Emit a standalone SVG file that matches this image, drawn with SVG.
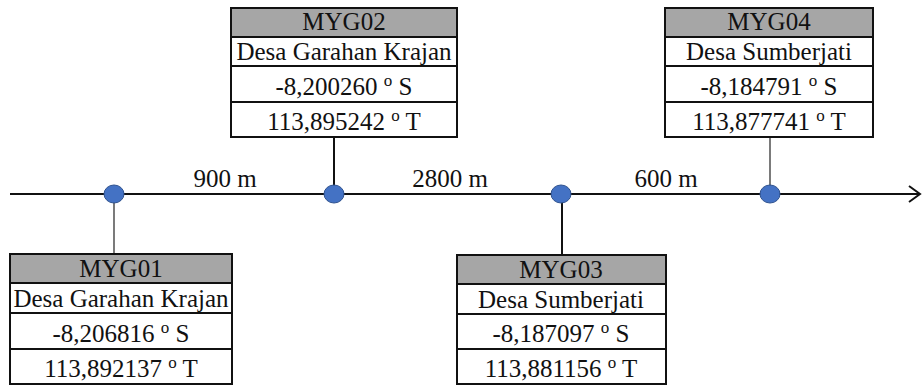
<svg xmlns="http://www.w3.org/2000/svg" width="923" height="385" viewBox="0 0 923 385">
<defs>
<style>
text{font-family:"Liberation Serif","Times New Roman",serif;font-size:25px;fill:#111;text-anchor:middle}
.hd{fill:#a6a6a6;stroke:none}
.box{fill:none;stroke:#111;stroke-width:2}
.row{stroke:#111;stroke-width:2}
.pt{fill:#4472c4;stroke:#2f528f;stroke-width:1}
.thick{stroke:#111;stroke-width:2;fill:none}
.thin{stroke:#333;stroke-width:1.3;fill:none}
.sup{font-size:17px}
</style>
</defs>
<rect width="923" height="385" fill="#fff"/>
<g id="connectors">
<line class="thick" x1="10" y1="194" x2="919" y2="194" stroke-width="2.5"/>
<polyline class="thick" points="909,186 920,194 909,202" stroke-width="2.5"/>
<line class="thin" x1="114" y1="194" x2="114" y2="254"/>
<line class="thick" x1="334" y1="137" x2="334" y2="194"/>
<line class="thick" x1="562" y1="194" x2="562" y2="255"/>
<line class="thin" x1="770" y1="137" x2="770" y2="194"/>
<text x="225" y="187">900 m</text>
<text x="450" y="187">2800 m</text>
<text x="666" y="187">600 m</text>
</g>
<g id="points">
<ellipse class="pt" cx="114" cy="194" rx="10" ry="9"/>
<ellipse class="pt" cx="334" cy="194" rx="10" ry="9"/>
<ellipse class="pt" cx="561" cy="194" rx="10" ry="9"/>
<ellipse class="pt" cx="770" cy="194" rx="10" ry="9"/>
</g>
<g id="MYG02">
<rect class="hd" x="231" y="8" width="226" height="29"/>
<rect class="box" x="231" y="8" width="226" height="129"/>
<line class="row" x1="231" y1="37" x2="457" y2="37"/>
<line class="row" x1="231" y1="66" x2="457" y2="66"/>
<line class="row" x1="231" y1="102" x2="457" y2="102"/>
<text x="344" y="30">MYG02</text>
<text x="344" y="60">Desa Garahan Krajan</text>
<text x="344" y="95">-8,200260 <tspan class="sup" dy="-9">o</tspan><tspan dy="9"> S</tspan></text>
<text x="344" y="130">113,895242 <tspan class="sup" dy="-9">o</tspan><tspan dy="9"> T</tspan></text>
</g>
<g id="MYG04">
<rect class="hd" x="665" y="8" width="208" height="29"/>
<rect class="box" x="665" y="8" width="208" height="129"/>
<line class="row" x1="665" y1="37" x2="873" y2="37"/>
<line class="row" x1="665" y1="66" x2="873" y2="66"/>
<line class="row" x1="665" y1="102" x2="873" y2="102"/>
<text x="769" y="30">MYG04</text>
<text x="769" y="60">Desa Sumberjati</text>
<text x="769" y="95">-8,184791 <tspan class="sup" dy="-9">o</tspan><tspan dy="9"> S</tspan></text>
<text x="769" y="130">113,877741 <tspan class="sup" dy="-9">o</tspan><tspan dy="9"> T</tspan></text>
</g>
<g id="MYG01">
<rect class="hd" x="10" y="254" width="222" height="29"/>
<rect class="box" x="10" y="254" width="222" height="130"/>
<line class="row" x1="10" y1="283" x2="232" y2="283"/>
<line class="row" x1="10" y1="313" x2="232" y2="313"/>
<line class="row" x1="10" y1="349" x2="232" y2="349"/>
<text x="121" y="277">MYG01</text>
<text x="121" y="307">Desa Garahan Krajan</text>
<text x="121" y="342">-8,206816 <tspan class="sup" dy="-9">o</tspan><tspan dy="9"> S</tspan></text>
<text x="121" y="377">113,892137 <tspan class="sup" dy="-9">o</tspan><tspan dy="9"> T</tspan></text>
</g>
<g id="MYG03">
<rect class="hd" x="457" y="255" width="209" height="29"/>
<rect class="box" x="457" y="255" width="209" height="129"/>
<line class="row" x1="457" y1="284" x2="666" y2="284"/>
<line class="row" x1="457" y1="314" x2="666" y2="314"/>
<line class="row" x1="457" y1="349" x2="666" y2="349"/>
<text x="561" y="278">MYG03</text>
<text x="561" y="308">Desa Sumberjati</text>
<text x="561" y="342">-8,187097 <tspan class="sup" dy="-9">o</tspan><tspan dy="9"> S</tspan></text>
<text x="561" y="377">113,881156 <tspan class="sup" dy="-9">o</tspan><tspan dy="9"> T</tspan></text>
</g>
</svg>
